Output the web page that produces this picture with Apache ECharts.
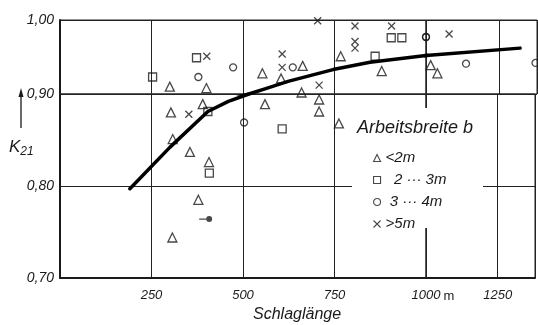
<!DOCTYPE html>
<html lang="de">
<head>
<meta charset="UTF-8">
<title>K21 über Schlaglänge</title>
<script src="https://cdn.jsdelivr.net/npm/echarts@6/dist/echarts.min.js"></script>
<style>
  html, body { margin: 0; padding: 0; background: #fff; }
  #chart { width: 538px; height: 325px; }
</style>
</head>
<body>
<div id="chart"></div>
<script>
// Messpunkte nach Arbeitsbreite (x = Schlaglänge in m, y = K21)
const triX = [300, 400, 390, 303, 308, 355, 407, 378, 307, 767, 879, 663, 553, 604, 660, 708, 708, 560, 762, 1016, 1039];
const triY = [0.910, 0.908, 0.889, 0.880, 0.851, 0.837, 0.826, 0.785, 0.744, 0.951, 0.931, 0.938, 0.928, 0.921, 0.902, 0.894, 0.881, 0.889, 0.868, 0.939, 0.928];
const sqX = [373, 253, 404, 408, 607, 861, 905, 934];
const sqY = [0.949, 0.923, 0.881, 0.814, 0.862, 0.951, 0.976, 0.976];
const ciX = [473, 378, 503, 636, 1000, 1137, 1375];
const ciY = [0.936, 0.923, 0.869, 0.936, 0.977, 0.941, 0.942];
const crX = [401, 352, 704, 806, 906, 806, 806, 607, 607, 708, 1079];
const crY = [0.951, 0.878, 0.999, 0.992, 0.992, 0.971, 0.962, 0.954, 0.936, 0.912, 0.981];
const dotX = [398];
const dotY = [0.764];
// Ausgleichskurve
const curveX = [191, 300, 404, 460, 516, 560, 623, 746, 847, 1000, 1322];
const curveY = [0.797, 0.842, 0.881, 0.892, 0.900, 0.907, 0.917, 0.933, 0.943, 0.952, 0.962];
// Achsen
const xTicks = [250, 500, 750, 1000, 1250];
const yTicks = [0.70, 0.80, 0.90, 1.00];
const legendNames = ['<2m', '2···3m', '3···4m', '>5m'];

const ink = '#1a1a1a';
const font = 'Liberation Sans';

function zip(xs, ys) { return xs.map((x, i) => [x, ys[i]]); }
function fmtY(v) { return v.toFixed(2).replace('.', ','); }

// the scan is not uniform: the 0.90-1.00 band and the 1000-1250 band are squeezed,
// so the plot is split into four panes that share the same data
const panes = [
  { left: 60,  top: 20, width: 366, height: 74,  x: [0, 1000],    y: [0.90, 1.00] },
  { left: 426, top: 20, width: 111, height: 74,  x: [1000, 1380], y: [0.90, 1.00] },
  { left: 60,  top: 94, width: 366, height: 184, x: [0, 1000],    y: [0.70, 0.90] },
  { left: 426, top: 94, width: 111, height: 184, x: [1000, 1380], y: [0.70, 0.90] }
];

const grid = panes.map(p => ({
  left: p.left, top: p.top, width: p.width, height: p.height,
  show: true, borderColor: '#222', borderWidth: 1, backgroundColor: 'transparent'
}));

const xAxis = panes.map((p, i) => ({
  gridIndex: i, type: 'value', min: p.x[0], max: p.x[1], interval: 250,
  axisLine: { show: i >= 2, onZero: false, lineStyle: { color: ink, width: 2 } },
  axisTick: { show: false },
  axisLabel: {
    show: i >= 2, margin: 11, color: ink, fontSize: 13, fontStyle: 'italic', fontFamily: font,
    formatter: v => (xTicks.indexOf(v) >= 0 && !(i === 3 && v === 1000)) ? String(v) : ''
  },
  splitLine: { show: true, lineStyle: { color: '#222', width: 1 } }
}));

const yAxis = panes.map((p, i) => ({
  gridIndex: i, type: 'value', min: p.y[0], max: p.y[1], interval: 0.1,
  axisLine: { show: i % 2 === 0, onZero: false, lineStyle: { color: ink, width: 2 } },
  axisTick: { show: false },
  axisLabel: {
    show: i % 2 === 0, margin: 6, color: ink, fontSize: 14, fontStyle: 'italic', fontFamily: font,
    formatter: v => {
      if (i === 0 && v < 0.95) return '';
      return yTicks.some(t => Math.abs(t - v) < 1e-6) ? fmtY(v) : '';
    }
  },
  splitLine: { show: true, lineStyle: { color: '#222', width: 1 } }
}));

const hollow = { color: 'rgba(0,0,0,0)', borderColor: ink, borderWidth: 1.3 };
const crossPath = 'path://M0,0L10,10M10,0L0,10';
const dotPath = 'path://M0,3.3H7V4.7H0Z M7,4A3,3 0 1 0 13,4A3,3 0 1 0 7,4Z';

const series = [];
panes.forEach((p, i) => {
  const ax = { xAxisIndex: i, yAxisIndex: i };
  series.push(
    Object.assign({ name: legendNames[0], type: 'scatter', data: zip(triX, triY), symbol: 'triangle', symbolSize: 9, itemStyle: hollow, clip: true, z: 3 }, ax),
    Object.assign({ name: legendNames[1], type: 'scatter', data: zip(sqX, sqY), symbol: 'rect', symbolSize: 8, itemStyle: hollow, clip: true, z: 3 }, ax),
    Object.assign({ name: legendNames[2], type: 'scatter', data: zip(ciX, ciY), symbol: 'circle', symbolSize: 7, itemStyle: hollow, clip: true, z: 3 }, ax),
    Object.assign({ name: legendNames[3], type: 'scatter', data: zip(crX, crY), symbol: crossPath, symbolSize: 7,
      itemStyle: { color: 'rgba(0,0,0,0)', borderColor: ink, borderWidth: 1.3 }, clip: true, z: 3 }, ax),
    Object.assign({ name: 'punkt', type: 'scatter', data: zip(dotX, dotY), symbol: dotPath, symbolSize: [13, 6],
      itemStyle: { color: ink }, clip: true, z: 3 }, ax),
    Object.assign({ name: 'kurve', type: 'line', data: zip(curveX, curveY), showSymbol: false, smooth: false,
      lineStyle: { color: '#000', width: 3.5, cap: 'round', join: 'round' }, clip: true, z: 4 }, ax)
  );
});

const chart = echarts.init(document.getElementById('chart'), null, { renderer: 'canvas' });
chart.setOption({
  animation: false,
  backgroundColor: '#fff',
  title: {
    text: 'Schlaglänge', left: 253, top: 307, padding: 0,
    textStyle: { color: ink, fontSize: 16, fontStyle: 'italic', fontWeight: 'normal', fontFamily: font }
  },
  legend: {
    data: legendNames, orient: 'vertical', left: 373, top: 149, padding: 0, z: 6,
    itemWidth: 7, itemHeight: 7, itemGap: 4, selectedMode: false,
    itemStyle: { borderWidth: 1.1 },
    formatter: n => (n === '2···3m' ? '  2 ··· 3m' : n === '3···4m' ? ' 3 ··· 4m' : n),
    textStyle: { color: ink, fontSize: 15, fontStyle: 'italic', fontFamily: font, lineHeight: 18 }
  },
  graphic: [
    { type: 'rect', z: 5, shape: { x: 352, y: 108, width: 131, height: 120 }, style: { fill: '#fff' } },
    { type: 'text', z: 6, x: 357, y: 128,
      style: { text: 'Arbeitsbreite b', fill: ink, font: 'italic 18px "Liberation Sans"', verticalAlign: 'middle' } },
    { type: 'text', z: 6, x: 449, y: 296,
      style: { text: 'm', fill: ink, font: '13px "Liberation Sans"', align: 'center', verticalAlign: 'middle' } },
    { type: 'text', z: 6, x: 9, y: 147,
      style: { text: '{k|K}{s|21}', fill: ink, verticalAlign: 'middle',
        rich: { k: { font: 'italic 17px "Liberation Sans"', fill: ink },
                s: { font: 'italic 12px "Liberation Sans"', fill: ink, padding: [10, 0, 0, 0] } } } },
    { type: 'line', z: 6, shape: { x1: 21, y1: 128, x2: 21, y2: 95 }, style: { stroke: ink, lineWidth: 1.3 } },
    { type: 'polygon', z: 6, shape: { points: [[21, 88], [18.5, 97], [23.5, 97]] }, style: { fill: ink } }
  ],
  grid: grid,
  xAxis: xAxis,
  yAxis: yAxis,
  series: series
});
</script>
</body>
</html>
